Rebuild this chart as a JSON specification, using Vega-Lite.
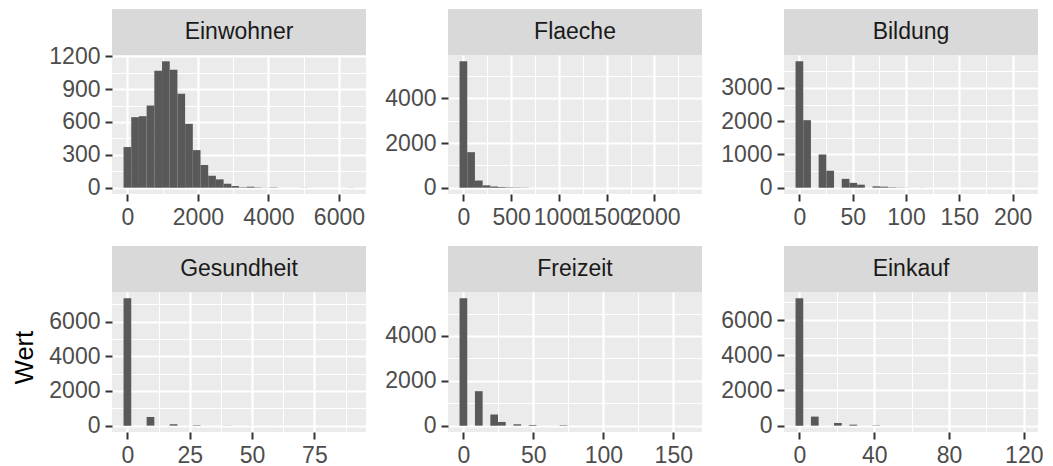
{
  "$schema": "https://vega.github.io/schema/vega-lite/v6.json",
  "background": "#FFFFFF",
  "padding": {"left": 12, "top": 9, "right": 0, "bottom": 0},
  "datasets": {
    "hist": [
      {"var": "Einwohner", "x0": -109.15, "x1": 109.15, "n": 371},
      {"var": "Einwohner", "x0": 109.15, "x1": 327.45, "n": 644},
      {"var": "Einwohner", "x0": 327.45, "x1": 545.75, "n": 653},
      {"var": "Einwohner", "x0": 545.75, "x1": 764.05, "n": 750},
      {"var": "Einwohner", "x0": 764.05, "x1": 982.35, "n": 1069},
      {"var": "Einwohner", "x0": 982.35, "x1": 1200.65, "n": 1154},
      {"var": "Einwohner", "x0": 1200.65, "x1": 1418.95, "n": 1078},
      {"var": "Einwohner", "x0": 1418.95, "x1": 1637.25, "n": 857},
      {"var": "Einwohner", "x0": 1637.25, "x1": 1855.55, "n": 583},
      {"var": "Einwohner", "x0": 1855.55, "x1": 2073.85, "n": 343},
      {"var": "Einwohner", "x0": 2073.85, "x1": 2292.15, "n": 207},
      {"var": "Einwohner", "x0": 2292.15, "x1": 2510.45, "n": 109},
      {"var": "Einwohner", "x0": 2510.45, "x1": 2728.75, "n": 76},
      {"var": "Einwohner", "x0": 2728.75, "x1": 2947.05, "n": 36},
      {"var": "Einwohner", "x0": 2947.05, "x1": 3165.35, "n": 15},
      {"var": "Einwohner", "x0": 3165.35, "x1": 3383.65, "n": 4},
      {"var": "Einwohner", "x0": 3383.65, "x1": 3601.95, "n": 9},
      {"var": "Einwohner", "x0": 3601.95, "x1": 3820.25, "n": 3},
      {"var": "Einwohner", "x0": 3820.25, "x1": 4038.55, "n": 1},
      {"var": "Einwohner", "x0": 4038.55, "x1": 4256.85, "n": 3},
      {"var": "Einwohner", "x0": 4911.75, "x1": 5130.05, "n": 1},
      {"var": "Einwohner", "x0": 6221.55, "x1": 6439.85, "n": 1},
      {"var": "Flaeche", "x0": -40.3, "x1": 40.3, "n": 5660},
      {"var": "Flaeche", "x0": 40.3, "x1": 120.9, "n": 1590},
      {"var": "Flaeche", "x0": 120.9, "x1": 201.5, "n": 320},
      {"var": "Flaeche", "x0": 201.5, "x1": 282.1, "n": 105},
      {"var": "Flaeche", "x0": 282.1, "x1": 362.7, "n": 50},
      {"var": "Flaeche", "x0": 362.7, "x1": 443.3, "n": 30},
      {"var": "Flaeche", "x0": 443.3, "x1": 523.9, "n": 18},
      {"var": "Flaeche", "x0": 523.9, "x1": 604.5, "n": 12},
      {"var": "Flaeche", "x0": 604.5, "x1": 685.1, "n": 8},
      {"var": "Flaeche", "x0": 926.9, "x1": 1007.5, "n": 1},
      {"var": "Flaeche", "x0": 1329.9, "x1": 1410.5, "n": 1},
      {"var": "Flaeche", "x0": 2297.1, "x1": 2377.7, "n": 1},
      {"var": "Bildung", "x0": -3.61, "x1": 3.61, "n": 3800},
      {"var": "Bildung", "x0": 3.61, "x1": 10.83, "n": 2030},
      {"var": "Bildung", "x0": 18.05, "x1": 25.27, "n": 1000},
      {"var": "Bildung", "x0": 25.27, "x1": 32.49, "n": 510},
      {"var": "Bildung", "x0": 39.71, "x1": 46.93, "n": 265},
      {"var": "Bildung", "x0": 46.93, "x1": 54.15, "n": 145},
      {"var": "Bildung", "x0": 54.15, "x1": 61.37, "n": 90},
      {"var": "Bildung", "x0": 68.59, "x1": 75.81, "n": 40},
      {"var": "Bildung", "x0": 75.81, "x1": 83.03, "n": 30},
      {"var": "Bildung", "x0": 83.03, "x1": 90.25, "n": 12},
      {"var": "Bildung", "x0": 90.25, "x1": 97.47, "n": 5},
      {"var": "Bildung", "x0": 97.47, "x1": 104.69, "n": 3},
      {"var": "Bildung", "x0": 111.91, "x1": 119.13, "n": 2},
      {"var": "Bildung", "x0": 205.77, "x1": 212.99, "n": 1},
      {"var": "Gesundheit", "x0": -1.5435, "x1": 1.5435, "n": 7335},
      {"var": "Gesundheit", "x0": 7.7175, "x1": 10.8045, "n": 500},
      {"var": "Gesundheit", "x0": 16.9785, "x1": 20.0655, "n": 80},
      {"var": "Gesundheit", "x0": 26.2395, "x1": 29.3265, "n": 25},
      {"var": "Gesundheit", "x0": 38.5875, "x1": 41.6745, "n": 8},
      {"var": "Gesundheit", "x0": 47.8485, "x1": 50.9355, "n": 3},
      {"var": "Gesundheit", "x0": 57.1095, "x1": 60.1965, "n": 2},
      {"var": "Gesundheit", "x0": 87.9795, "x1": 91.0665, "n": 1},
      {"var": "Freizeit", "x0": -2.75, "x1": 2.75, "n": 5675},
      {"var": "Freizeit", "x0": 8.25, "x1": 13.75, "n": 1535},
      {"var": "Freizeit", "x0": 19.25, "x1": 24.75, "n": 492},
      {"var": "Freizeit", "x0": 24.75, "x1": 30.25, "n": 164},
      {"var": "Freizeit", "x0": 35.75, "x1": 41.25, "n": 60},
      {"var": "Freizeit", "x0": 46.75, "x1": 52.25, "n": 30},
      {"var": "Freizeit", "x0": 68.75, "x1": 74.25, "n": 20},
      {"var": "Freizeit", "x0": 156.75, "x1": 162.25, "n": 1},
      {"var": "Einkauf", "x0": -2.058, "x1": 2.058, "n": 7235},
      {"var": "Einkauf", "x0": 6.174, "x1": 10.29, "n": 514},
      {"var": "Einkauf", "x0": 18.522, "x1": 22.638, "n": 152},
      {"var": "Einkauf", "x0": 26.754, "x1": 30.87, "n": 57},
      {"var": "Einkauf", "x0": 39.102, "x1": 43.218, "n": 19},
      {"var": "Einkauf", "x0": 117.306, "x1": 121.422, "n": 1}
    ]
  },
  "columns": 3,
  "spacing": {"row": 17, "column": 18},
  "concat": [
    {
      "spacing": 0, "bounds": "flush",
      "vconcat": [
        {"data": {"values": [{"var": "Einwohner"}]}, "width": 254, "height": 46, "view": {"fill": "#D9D9D9", "stroke": null},
         "mark": {"type": "text", "fontSize": 23, "color": "#1A1A1A", "font": "Liberation Sans"},
         "encoding": {"text": {"field": "var", "type": "nominal"}}},
        {"data": {"name": "hist"}, "transform": [{"filter": "datum.var === 'Einwohner'"}],
         "width": 254, "height": 139, "view": {"fill": "#EBEBEB", "stroke": null},
         "mark": {"type": "rect", "color": "#595959"},
         "encoding": {
           "x": {"field": "x0", "type": "quantitative", "scale": {"domain": [-436.6, 6767.3], "nice": false, "zero": false},
                 "axis": {"title": null, "format": "d", "values": [0, 1000, 2000, 3000, 4000, 5000, 6000],
                          "labelExpr": "datum.value % 2000 === 0 ? datum.label : ''",
                          "tickOpacity": {"condition": {"test": "datum.value % 2000 !== 0", "value": 0}, "value": 1},
                          "gridWidth": {"condition": {"test": "datum.value % 2000 === 0", "value": 2.2}, "value": 1.1}}},
           "x2": {"field": "x1"},
           "y": {"field": "n", "type": "quantitative", "stack": null, "scale": {"domain": [-57.7, 1211.7], "nice": false},
                 "axis": {"title": "Wert", "titleOpacity": 0, "titleFontSize": 25.5, "titlePadding": 11, "titleFontWeight": "normal", "titleColor": "#000000", "titleY": 65,
                          "format": "d", "values": [0, 150, 300, 450, 600, 750, 900, 1050, 1200],
                          "labelExpr": "datum.value % 300 === 0 ? datum.label : ''",
                          "tickOpacity": {"condition": {"test": "datum.value % 300 !== 0", "value": 0}, "value": 1},
                          "gridWidth": {"condition": {"test": "datum.value % 300 === 0", "value": 2.2}, "value": 1.1}}},
           "y2": {"datum": 0}
         }}
      ]
    },
    {
      "spacing": 0, "bounds": "flush",
      "vconcat": [
        {"data": {"values": [{"var": "Flaeche"}]}, "width": 254, "height": 46, "view": {"fill": "#D9D9D9", "stroke": null},
         "mark": {"type": "text", "fontSize": 23, "color": "#1A1A1A", "font": "Liberation Sans"},
         "encoding": {"text": {"field": "var", "type": "nominal"}}},
        {"data": {"name": "hist"}, "transform": [{"filter": "datum.var === 'Flaeche'"}],
         "width": 254, "height": 139, "view": {"fill": "#EBEBEB", "stroke": null},
         "mark": {"type": "rect", "color": "#595959"},
         "encoding": {
           "x": {"field": "x0", "type": "quantitative", "scale": {"domain": [-161.2, 2498.6], "nice": false, "zero": false},
                 "axis": {"title": null, "format": "d", "values": [0, 250, 500, 750, 1000, 1250, 1500, 1750, 2000, 2250],
                          "labelExpr": "datum.value % 500 === 0 ? datum.label : ''",
                          "tickOpacity": {"condition": {"test": "datum.value % 500 !== 0", "value": 0}, "value": 1},
                          "gridWidth": {"condition": {"test": "datum.value % 500 === 0", "value": 2.2}, "value": 1.1}}},
           "x2": {"field": "x1"},
           "y": {"field": "n", "type": "quantitative", "stack": null, "scale": {"domain": [-283, 5943], "nice": false},
                 "axis": {"title": null, "format": "d", "values": [0, 1000, 2000, 3000, 4000, 5000],
                          "labelExpr": "datum.value % 2000 === 0 ? datum.label : ''",
                          "tickOpacity": {"condition": {"test": "datum.value % 2000 !== 0", "value": 0}, "value": 1},
                          "gridWidth": {"condition": {"test": "datum.value % 2000 === 0", "value": 2.2}, "value": 1.1}}},
           "y2": {"datum": 0}
         }}
      ]
    },
    {
      "spacing": 0, "bounds": "flush",
      "vconcat": [
        {"data": {"values": [{"var": "Bildung"}]}, "width": 254, "height": 46, "view": {"fill": "#D9D9D9", "stroke": null},
         "mark": {"type": "text", "fontSize": 23, "color": "#1A1A1A", "font": "Liberation Sans"},
         "encoding": {"text": {"field": "var", "type": "nominal"}}},
        {"data": {"name": "hist"}, "transform": [{"filter": "datum.var === 'Bildung'"}],
         "width": 254, "height": 139, "view": {"fill": "#EBEBEB", "stroke": null},
         "mark": {"type": "rect", "color": "#595959"},
         "encoding": {
           "x": {"field": "x0", "type": "quantitative", "scale": {"domain": [-14.44, 223.82], "nice": false, "zero": false},
                 "axis": {"title": null, "format": "d", "values": [0, 25, 50, 75, 100, 125, 150, 175, 200],
                          "labelExpr": "datum.value % 50 === 0 ? datum.label : ''",
                          "tickOpacity": {"condition": {"test": "datum.value % 50 !== 0", "value": 0}, "value": 1},
                          "gridWidth": {"condition": {"test": "datum.value % 50 === 0", "value": 2.2}, "value": 1.1}}},
           "x2": {"field": "x1"},
           "y": {"field": "n", "type": "quantitative", "stack": null, "scale": {"domain": [-190, 3990], "nice": false},
                 "axis": {"title": null, "format": "d", "values": [0, 500, 1000, 1500, 2000, 2500, 3000, 3500],
                          "labelExpr": "datum.value % 1000 === 0 ? datum.label : ''",
                          "tickOpacity": {"condition": {"test": "datum.value % 1000 !== 0", "value": 0}, "value": 1},
                          "gridWidth": {"condition": {"test": "datum.value % 1000 === 0", "value": 2.2}, "value": 1.1}}},
           "y2": {"datum": 0}
         }}
      ]
    },
    {
      "spacing": 0, "bounds": "flush",
      "vconcat": [
        {"data": {"values": [{"var": "Gesundheit"}]}, "width": 254, "height": 46, "view": {"fill": "#D9D9D9", "stroke": null},
         "mark": {"type": "text", "fontSize": 23, "color": "#1A1A1A", "font": "Liberation Sans"},
         "encoding": {"text": {"field": "var", "type": "nominal"}}},
        {"data": {"name": "hist"}, "transform": [{"filter": "datum.var === 'Gesundheit'"}],
         "width": 254, "height": 140, "view": {"fill": "#EBEBEB", "stroke": null},
         "mark": {"type": "rect", "color": "#595959"},
         "encoding": {
           "x": {"field": "x0", "type": "quantitative", "scale": {"domain": [-6.174, 95.697], "nice": false, "zero": false},
                 "axis": {"title": null, "format": "d", "values": [0, 12.5, 25, 37.5, 50, 62.5, 75, 87.5],
                          "labelExpr": "datum.value % 25 === 0 ? datum.label : ''",
                          "tickOpacity": {"condition": {"test": "datum.value % 25 !== 0", "value": 0}, "value": 1},
                          "gridWidth": {"condition": {"test": "datum.value % 25 === 0", "value": 2.2}, "value": 1.1}}},
           "x2": {"field": "x1"},
           "y": {"field": "n", "type": "quantitative", "stack": null, "scale": {"domain": [-366.75, 7701.75], "nice": false},
                 "axis": {"title": "Wert", "titleFontSize": 25.5, "titlePadding": 11, "titleFontWeight": "normal", "titleColor": "#000000", "titleY": 65,
                          "format": "d", "values": [0, 1000, 2000, 3000, 4000, 5000, 6000, 7000],
                          "labelExpr": "datum.value % 2000 === 0 ? datum.label : ''",
                          "tickOpacity": {"condition": {"test": "datum.value % 2000 !== 0", "value": 0}, "value": 1},
                          "gridWidth": {"condition": {"test": "datum.value % 2000 === 0", "value": 2.2}, "value": 1.1}}},
           "y2": {"datum": 0}
         }}
      ]
    },
    {
      "spacing": 0, "bounds": "flush",
      "vconcat": [
        {"data": {"values": [{"var": "Freizeit"}]}, "width": 254, "height": 46, "view": {"fill": "#D9D9D9", "stroke": null},
         "mark": {"type": "text", "fontSize": 23, "color": "#1A1A1A", "font": "Liberation Sans"},
         "encoding": {"text": {"field": "var", "type": "nominal"}}},
        {"data": {"name": "hist"}, "transform": [{"filter": "datum.var === 'Freizeit'"}],
         "width": 254, "height": 140, "view": {"fill": "#EBEBEB", "stroke": null},
         "mark": {"type": "rect", "color": "#595959"},
         "encoding": {
           "x": {"field": "x0", "type": "quantitative", "scale": {"domain": [-11, 170.5], "nice": false, "zero": false},
                 "axis": {"title": null, "format": "d", "values": [0, 25, 50, 75, 100, 125, 150],
                          "labelExpr": "datum.value % 50 === 0 ? datum.label : ''",
                          "tickOpacity": {"condition": {"test": "datum.value % 50 !== 0", "value": 0}, "value": 1},
                          "gridWidth": {"condition": {"test": "datum.value % 50 === 0", "value": 2.2}, "value": 1.1}}},
           "x2": {"field": "x1"},
           "y": {"field": "n", "type": "quantitative", "stack": null, "scale": {"domain": [-283.75, 5958.75], "nice": false},
                 "axis": {"title": null, "format": "d", "values": [0, 1000, 2000, 3000, 4000, 5000],
                          "labelExpr": "datum.value % 2000 === 0 ? datum.label : ''",
                          "tickOpacity": {"condition": {"test": "datum.value % 2000 !== 0", "value": 0}, "value": 1},
                          "gridWidth": {"condition": {"test": "datum.value % 2000 === 0", "value": 2.2}, "value": 1.1}}},
           "y2": {"datum": 0}
         }}
      ]
    },
    {
      "spacing": 0, "bounds": "flush",
      "vconcat": [
        {"data": {"values": [{"var": "Einkauf"}]}, "width": 254, "height": 46, "view": {"fill": "#D9D9D9", "stroke": null},
         "mark": {"type": "text", "fontSize": 23, "color": "#1A1A1A", "font": "Liberation Sans"},
         "encoding": {"text": {"field": "var", "type": "nominal"}}},
        {"data": {"name": "hist"}, "transform": [{"filter": "datum.var === 'Einkauf'"}],
         "width": 254, "height": 140, "view": {"fill": "#EBEBEB", "stroke": null},
         "mark": {"type": "rect", "color": "#595959"},
         "encoding": {
           "x": {"field": "x0", "type": "quantitative", "scale": {"domain": [-8.232, 127.596], "nice": false, "zero": false},
                 "axis": {"title": null, "format": "d", "values": [0, 20, 40, 60, 80, 100, 120],
                          "labelExpr": "datum.value % 40 === 0 ? datum.label : ''",
                          "tickOpacity": {"condition": {"test": "datum.value % 40 !== 0", "value": 0}, "value": 1},
                          "gridWidth": {"condition": {"test": "datum.value % 40 === 0", "value": 2.2}, "value": 1.1}}},
           "x2": {"field": "x1"},
           "y": {"field": "n", "type": "quantitative", "stack": null, "scale": {"domain": [-361.75, 7596.75], "nice": false},
                 "axis": {"title": null, "format": "d", "values": [0, 1000, 2000, 3000, 4000, 5000, 6000, 7000],
                          "labelExpr": "datum.value % 2000 === 0 ? datum.label : ''",
                          "tickOpacity": {"condition": {"test": "datum.value % 2000 !== 0", "value": 0}, "value": 1},
                          "gridWidth": {"condition": {"test": "datum.value % 2000 === 0", "value": 2.2}, "value": 1.1}}},
           "y2": {"datum": 0}
         }}
      ]
    }
  ],
  "config": {
    "font": "Liberation Sans",
    "axis": {
      "domain": false,
      "labelFont": "Liberation Sans",
      "labelFontSize": 23,
      "labelColor": "#4D4D4D",
      "tickColor": "#333333",
      "tickWidth": 2,
      "tickSize": 7,
      "labelPadding": 5,
      "gridColor": "#FFFFFF",
      "labelOverlap": false,
      "labelFlush": false,
      "labelBound": false,
      "titleFont": "Liberation Sans"
    }
  }
}
